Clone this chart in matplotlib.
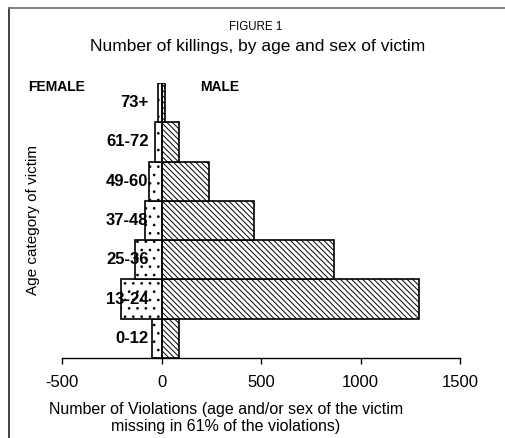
import matplotlib.pyplot as plt
from matplotlib.lines import Line2D

ages = ['0-12', '13-24', '25-36', '37-48', '49-60', '61-72', '73+']
male = [90, 1295, 865, 465, 240, 87, 17]
female = [-50, -203, -131, -85, -64, -35, -19]
xticks = [-500, 0, 500, 1000, 1500]

plt.rcParams['font.family'] = ['Liberation Sans', 'DejaVu Sans']
plt.rcParams['hatch.linewidth'] = 0.7

fig = plt.figure(figsize=(5.05, 4.38), dpi=100)
ax = fig.add_axes([62 / 505, 80 / 438, 398 / 505, 275 / 438])

ypos = range(len(ages))
ax.barh(ypos, male, height=1.0, color='white', edgecolor='black',
        linewidth=1.2, hatch='\\\\\\\\\\\\')
ax.barh(ypos, female, height=1.0, color='white', edgecolor='black',
        linewidth=1.2, hatch='..')
ax.axvline(0, color='black', linewidth=1.2)

for y, lab in zip(ypos, ages):
    ax.text(-65, y, lab, ha='right', va='center', fontsize=12,
            fontweight='bold')

ax.set_xlim(-500, 1500)
ax.set_ylim(-0.5, 6.5)
ax.set_xticks(xticks)
ax.set_xticklabels([str(v) for v in xticks], fontsize=12)
ax.set_yticks([])
for s in ['top', 'right', 'left']:
    ax.spines[s].set_visible(False)
ax.spines['bottom'].set_linewidth(1.0)
ax.tick_params(axis='x', direction='out', length=4, width=1.0, pad=8)

fig.text(256 / 505, 1 - 27 / 438, 'FIGURE 1', ha='center', va='center',
         fontsize=8.3)
fig.text(258 / 505, 1 - 47 / 438, 'Number of killings, by age and sex of victim',
         ha='center', va='center', fontsize=12.5)
fig.text(57 / 505, 1 - 87 / 438, 'FEMALE', ha='center', va='center',
         fontsize=10, fontweight='bold')
fig.text(220 / 505, 1 - 87 / 438, 'MALE', ha='center', va='center',
         fontsize=10, fontweight='bold')
fig.text(33 / 505, 1 - 220 / 438, 'Age category of victim', ha='center',
         va='center', rotation=90, fontsize=11)
fig.text(226 / 505, 1 - 418 / 438,
         'Number of Violations (age and/or sex of the victim\nmissing in 61% of the violations)',
         ha='center', va='center', fontsize=11.5, linespacing=1.1)

# frame lines at top and left
fig.add_artist(Line2D([9 / 505, 9 / 505], [0, 1 - 8 / 438], color='#333333',
                      linewidth=1.3, transform=fig.transFigure))
fig.add_artist(Line2D([9 / 505, 1], [1 - 8 / 438, 1 - 8 / 438], color='#777777',
                      linewidth=1.3, transform=fig.transFigure))

fig.savefig('out.png', dpi=100)
